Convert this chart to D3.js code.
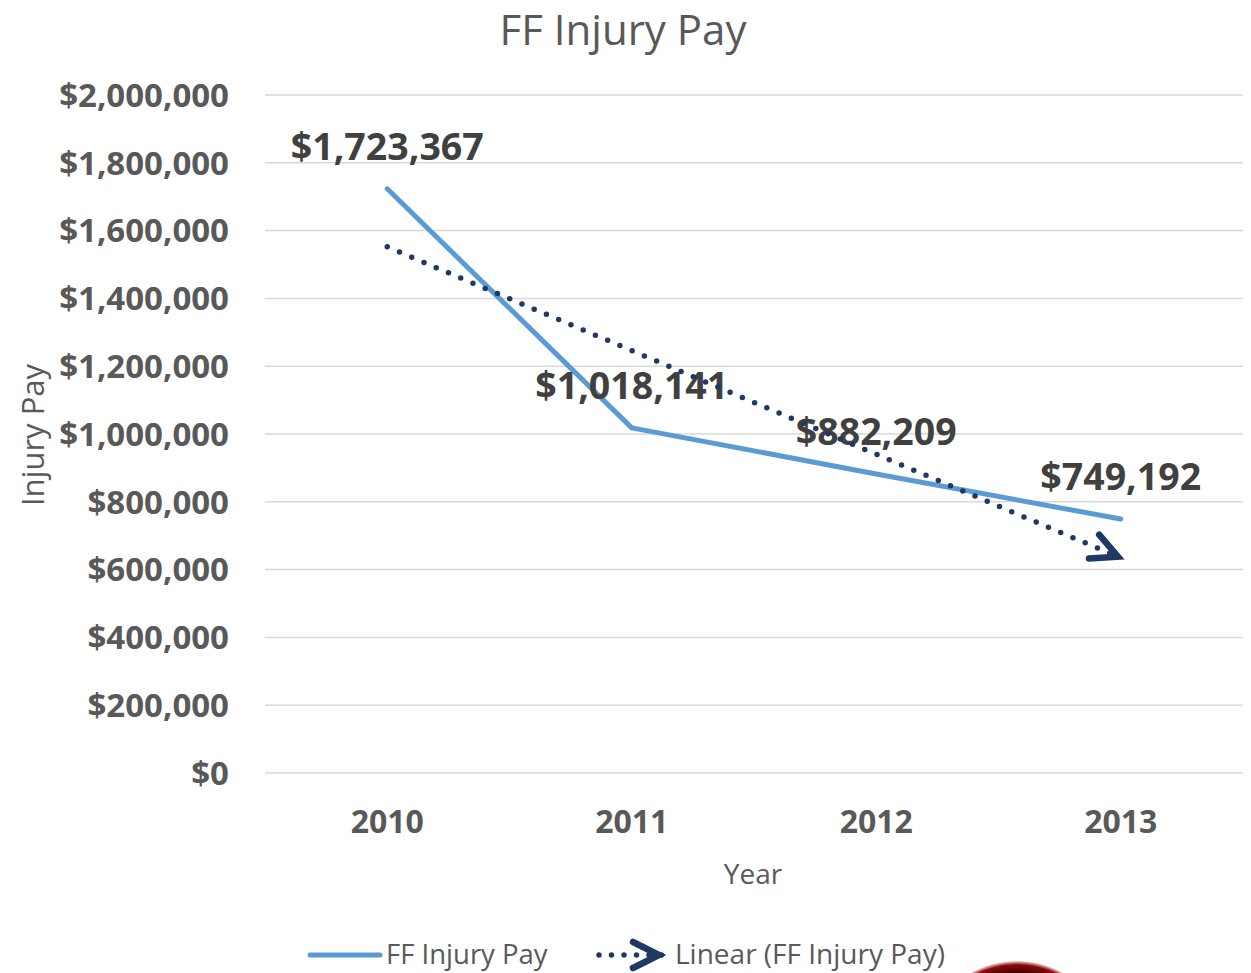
<!DOCTYPE html>
<html lang="en">
<head>
  <meta charset="UTF-8">
  <title>FF Injury Pay</title>
  <script src="https://d3js.org/d3.v7.min.js"></script>
  <style>
    body { margin: 0; background: #fff; }
    text { font-family: "Open Sans", sans-serif; }
    .grid line { stroke: #d9d9d9; stroke-width: 1.5px; }
    .tick-label { font-weight: bold; fill: #595959; }
    .data-label { font-weight: bold; fill: #404040; }
  </style>
</head>
<body>
<svg width="1251" height="973" id="chart"></svg>

<script>
  const years = ['2010', '2011', '2012', '2013'];
  const injuryPay = [1723367, 1018141, 882209, 749192];
  const yTicks = [0, 200000, 400000, 600000, 800000, 1000000, 1200000, 1400000, 1600000, 1800000, 2000000];

  const blue = '#5b9bd5';
  const navy = '#203864';

  const svg = d3.select('#chart');

  const x = d3.scaleBand().domain(years).range([265, 1243]);
  const y = d3.scaleLinear().domain([0, 2000000]).range([773, 95]);
  const cx = d => x(d) + x.bandwidth() / 2;
  const money = v => '$' + d3.format(',')(v);

  // linear trend (least squares)
  const n = injuryPay.length;
  const mx = d3.mean(d3.range(n));
  const my = d3.mean(injuryPay);
  const slope = d3.sum(injuryPay, (v, i) => (i - mx) * (v - my)) / d3.sum(d3.range(n), i => (i - mx) ** 2);
  const trend = years.map((yr, i) => ({ yr, v: my + slope * (i - mx) }));

  // defs
  const defs = svg.append('defs');
  defs.append('marker')
    .attr('id', 'arrow')
    .attr('markerUnits', 'userSpaceOnUse')
    .attr('viewBox', '-36 -20 44 40')
    .attr('refX', 3).attr('refY', 0)
    .attr('markerWidth', 44).attr('markerHeight', 40)
    .attr('orient', 'auto')
    .append('path')
    .attr('d', 'M-26,-13 L0,0 L-26,13')
    .attr('fill', 'none')
    .attr('stroke', navy)
    .attr('stroke-width', 6.5)
    .attr('stroke-linecap', 'round')
    .attr('stroke-linejoin', 'miter');

  const grad = defs.append('radialGradient').attr('id', 'logo');
  grad.append('stop').attr('offset', '0%').attr('stop-color', '#000');
  grad.append('stop').attr('offset', '85%').attr('stop-color', '#2a0000');
  grad.append('stop').attr('offset', '96%').attr('stop-color', '#8b0a0a');
  grad.append('stop').attr('offset', '100%').attr('stop-color', '#f3d8d8');

  // gridlines
  svg.append('g').attr('class', 'grid')
    .selectAll('line').data(yTicks).enter().append('line')
    .attr('x1', 265).attr('x2', 1243)
    .attr('y1', d => y(d)).attr('y2', d => y(d));

  // y tick labels
  svg.append('g').selectAll('text').data(yTicks).enter().append('text')
    .attr('class', 'tick-label')
    .attr('x', 229).attr('y', d => y(d)).attr('dy', '0.36em')
    .attr('text-anchor', 'end')
    .style('font-size', '33px')
    .text(money);

  // x tick labels
  svg.append('g').selectAll('text').data(years).enter().append('text')
    .attr('class', 'tick-label')
    .attr('x', cx).attr('y', 833)
    .attr('text-anchor', 'middle')
    .style('font-size', '32px')
    .text(d => d);

  // titles
  svg.append('text')
    .attr('x', 623).attr('y', 45)
    .attr('text-anchor', 'middle')
    .style('font-size', '42px').style('fill', '#595959')
    .text('FF Injury Pay');

  svg.append('text')
    .attr('x', 753).attr('y', 884)
    .attr('text-anchor', 'middle')
    .style('font-size', '28px').style('fill', '#595959')
    .text('Year');

  svg.append('text')
    .attr('transform', 'translate(44,435) rotate(-90)')
    .attr('text-anchor', 'middle')
    .style('font-size', '31px').style('fill', '#595959')
    .text('Injury Pay');

  // series line
  const line = d3.line().x((d, i) => cx(years[i])).y(d => y(d));
  svg.append('path')
    .datum(injuryPay)
    .attr('d', line)
    .attr('fill', 'none')
    .attr('stroke', blue)
    .attr('stroke-width', 5)
    .attr('stroke-linecap', 'round')
    .attr('stroke-linejoin', 'round');

  // data labels
  svg.append('g').selectAll('text').data(injuryPay).enter().append('text')
    .attr('class', 'data-label')
    .attr('x', (d, i) => cx(years[i]))
    .attr('y', d => y(d) - 29)
    .attr('text-anchor', 'middle')
    .style('font-size', '37.5px')
    .text(money);

  // trendline
  svg.append('path')
    .datum(trend)
    .attr('d', d3.line().x(d => cx(d.yr)).y(d => y(d.v)))
    .attr('fill', 'none')
    .attr('stroke', navy)
    .attr('stroke-width', 5.5)
    .attr('stroke-linecap', 'round')
    .attr('stroke-dasharray', '0 13.3')
    .attr('marker-end', 'url(#arrow)');

  // legend
  const lg = svg.append('g');
  lg.append('line')
    .attr('x1', 310).attr('x2', 380).attr('y1', 955).attr('y2', 955)
    .attr('stroke', blue).attr('stroke-width', 5).attr('stroke-linecap', 'round');
  lg.append('text')
    .attr('x', 386).attr('y', 964)
    .style('font-size', '27.5px').style('fill', '#595959')
    .text('FF Injury Pay');
  lg.append('line')
    .attr('x1', 599).attr('x2', 662).attr('y1', 955).attr('y2', 955)
    .attr('stroke', navy).attr('stroke-width', 5.5).attr('stroke-linecap', 'round')
    .attr('stroke-dasharray', '0 12.5')
    .attr('marker-end', 'url(#arrow)');
  lg.append('text')
    .attr('x', 675).attr('y', 964)
    .style('font-size', '28px').style('fill', '#595959')
    .text('Linear (FF Injury Pay)');

  // partial logo at bottom edge
  svg.append('circle')
    .attr('cx', 1017).attr('cy', 1056).attr('r', 95)
    .attr('fill', 'url(#logo)');
</script>
</body>
</html>
